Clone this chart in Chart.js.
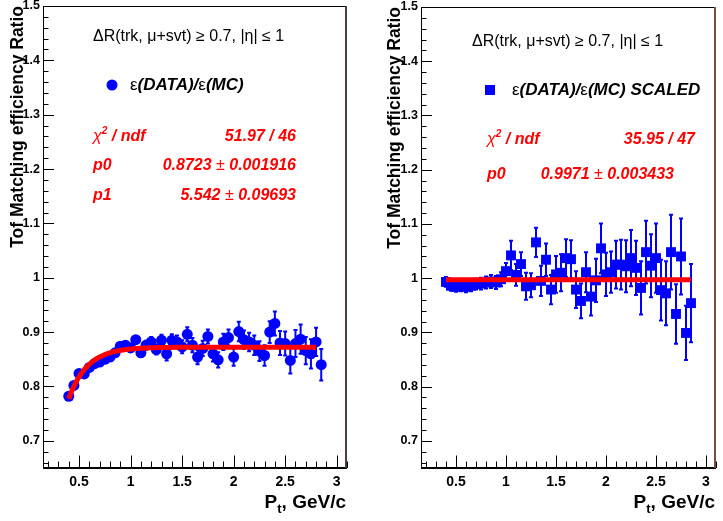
<!DOCTYPE html>
<html>
<head>
<meta charset="utf-8">
<script src="https://cdn.jsdelivr.net/npm/chart.js@4.4.0/dist/chart.umd.min.js"></script>
<style>
  html, body { margin: 0; padding: 0; background: #fff; }
  #wrap { position: relative; width: 723px; height: 521px; overflow: hidden; }
  canvas { position: absolute; top: 0; }
  #ratioChart { left: 0; }
  #scaledChart { left: 362px; }
</style>
</head>
<body>
<div id="wrap">
  <canvas id="ratioChart" width="362" height="521"></canvas>
  <canvas id="scaledChart" width="361" height="521"></canvas>
</div>
<script>
// ---------- DATA ----------
const ptBins = [0.40, 0.45, 0.50, 0.55, 0.60, 0.65, 0.70, 0.75, 0.80, 0.85,
                0.90, 0.95, 1.00, 1.05, 1.10, 1.15, 1.20, 1.25, 1.30, 1.35,
                1.40, 1.45, 1.50, 1.55, 1.60, 1.65, 1.70, 1.75, 1.80, 1.85,
                1.90, 1.95, 2.00, 2.05, 2.10, 2.15, 2.20, 2.25, 2.30, 2.35,
                2.40, 2.45, 2.50, 2.55, 2.60, 2.65, 2.70, 2.75, 2.80, 2.85];

// eps(DATA)/eps(MC)
const ratioVals = [0.782, 0.802, 0.824, 0.823, 0.835, 0.842, 0.845, 0.850, 0.854, 0.862,
                   0.874, 0.876, 0.871, 0.886, 0.862, 0.876, 0.882, 0.868, 0.885, 0.860,
                   0.885, 0.882, 0.873, 0.896, 0.876, 0.854, 0.870, 0.892, 0.860, 0.849,
                   0.882, 0.890, 0.854, 0.901, 0.886, 0.882, 0.876, 0.865, 0.857, 0.900,
                   0.916, 0.880, 0.879, 0.848, 0.879, 0.887, 0.866, 0.860, 0.882, 0.840];
const ratioErrs = [0.003, 0.003, 0.004, 0.004, 0.004, 0.004, 0.005, 0.005, 0.005, 0.005,
                   0.006, 0.006, 0.007, 0.007, 0.008, 0.008, 0.009, 0.009, 0.010, 0.012,
                   0.011, 0.012, 0.012, 0.013, 0.013, 0.013, 0.014, 0.013, 0.014, 0.014,
                   0.015, 0.015, 0.016, 0.018, 0.017, 0.017, 0.018, 0.018, 0.019, 0.020,
                   0.022, 0.022, 0.022, 0.024, 0.025, 0.027, 0.025, 0.027, 0.026, 0.029];

// eps(DATA)/eps(MC) SCALED
const scaledVals = [0.993, 0.986, 0.984, 0.985, 0.984, 0.986, 0.989, 0.990, 0.992, 0.994,
                    0.992, 0.998, 1.013, 1.042, 1.006, 1.026, 0.985, 0.987, 1.066, 0.995,
                    1.034, 0.979, 1.007, 1.010, 1.037, 1.035, 0.979, 0.958, 1.011, 0.966,
                    0.996, 1.055, 1.007, 1.011, 1.025, 1.025, 1.022, 1.037, 1.019, 0.982,
                    1.048, 1.023, 1.037, 0.978, 0.972, 1.048, 0.934, 1.040, 0.899, 0.954];
const scaledErrs = [0.009, 0.009, 0.009, 0.009, 0.010, 0.010, 0.010, 0.011, 0.011, 0.012,
                    0.012, 0.013, 0.015, 0.027, 0.020, 0.022, 0.025, 0.022, 0.027, 0.028,
                    0.030, 0.027, 0.034, 0.034, 0.035, 0.035, 0.034, 0.032, 0.037, 0.035,
                    0.040, 0.046, 0.040, 0.038, 0.044, 0.046, 0.048, 0.052, 0.050, 0.049,
                    0.058, 0.058, 0.064, 0.056, 0.059, 0.069, 0.055, 0.070, 0.050, 0.072];

// fit results printed in the stat boxes
const ratioFit = { p0: 0.8723, p1: 5.542, from: 0.40, to: 2.80 };
const scaledFit = { p0: 0.9971, from: 0.40, to: 2.85 };

const xTicks = [0.5, 1, 1.5, 2, 2.5, 3];
const yTicks = [0.7, 0.8, 0.9, 1.0, 1.1, 1.2, 1.3, 1.4, 1.5];

const SANS = '"Liberation Sans", Arial, Helvetica, sans-serif';
const BLUE = "#0000ff";
const RED = "#ff0000";

Chart.defaults.font.family = SANS;

// ---------- HELPERS ----------
function toPoints(xs, ys) {
  return xs.map((x, i) => ({ x: x, y: ys[i] }));
}

// draws a line of text made of several runs (font changes, sub/superscripts)
function drawRuns(ctx, runs, x, y, align) {
  let w = 0;
  runs.forEach(r => { ctx.font = r[1]; w += ctx.measureText(r[0]).width; });
  let cx = align === "right" ? x - w : x;
  ctx.textAlign = "left";
  runs.forEach(r => {
    ctx.font = r[1];
    ctx.fillText(r[0], cx, y + (r[2] || 0));
    cx += ctx.measureText(r[0]).width;
  });
}

const bi = size => `italic bold ${size}px ${SANS}`;
const plain = size => `${size}px ${SANS}`;

// ---------- ERROR BARS ----------
const errorBarPlugin = {
  id: "errorBars",
  beforeDatasetsDraw(chart, args, opts) {
    const { ctx } = chart;
    const xs = chart.scales.x, ys = chart.scales.y;
    ctx.save();
    ctx.strokeStyle = BLUE;
    ctx.lineWidth = 2;
    opts.values.forEach((v, i) => {
      const px = xs.getPixelForValue(opts.xs[i]);
      const top = ys.getPixelForValue(v + opts.errs[i]);
      const bot = ys.getPixelForValue(v - opts.errs[i]);
      ctx.beginPath();
      ctx.moveTo(px, top);
      ctx.lineTo(px, bot);
      ctx.moveTo(px - 2, top);
      ctx.lineTo(px + 2, top);
      ctx.moveTo(px - 2, bot);
      ctx.lineTo(px + 2, bot);
      ctx.stroke();
    });
    ctx.restore();
  }
};

// ---------- FRAME, INWARD TICKS, TEXT ----------
const framePlugin = {
  id: "rootFrame",
  afterDatasetsDraw(chart, args, opts) {
    const { ctx, chartArea: a } = chart;
    const xs = chart.scales.x, ys = chart.scales.y;
    ctx.save();

    // frame
    ctx.strokeStyle = "#000";
    ctx.lineWidth = 1;
    ctx.beginPath();
    ctx.moveTo(a.left + 0.5, a.bottom);
    ctx.lineTo(a.left + 0.5, a.top + 0.5);
    ctx.lineTo(a.right, a.top + 0.5);
    ctx.stroke();
    ctx.lineWidth = 2;
    ctx.beginPath();
    ctx.moveTo(a.left, a.bottom);
    ctx.lineTo(a.right, a.bottom);
    ctx.stroke();
    ctx.strokeStyle = opts.edgeColor;
    ctx.beginPath();
    ctx.moveTo(a.right - 1, a.top);
    ctx.lineTo(a.right - 1, a.bottom);
    ctx.stroke();

    // ticks pointing into the frame
    ctx.strokeStyle = "#000";
    ctx.lineWidth = 1;
    ctx.beginPath();
    for (let i = 33; i <= 75; i++) {
      const py = Math.round(ys.getPixelForValue(i * 0.02)) + 0.5;
      const len = i % 5 === 0 ? 11 : 5.5;
      ctx.moveTo(a.left, py);
      ctx.lineTo(a.left + len, py);
    }
    for (let i = 2; i <= 31; i++) {
      const px = Math.round(xs.getPixelForValue(i * 0.1)) + 0.5;
      const len = i % 5 === 0 ? 12.5 : 6.5;
      ctx.moveTo(px, a.bottom);
      ctx.lineTo(px, a.bottom - len);
    }
    ctx.stroke();

    // x axis title: P_t, GeV/c
    ctx.fillStyle = "#000";
    ctx.textBaseline = "alphabetic";
    drawRuns(ctx, [["P", `bold 19px ${SANS}`], ["t", `bold 13px ${SANS}`, 5],
                   [", GeV/c", `bold 19px ${SANS}`]], a.right - 1, 508, "right");

    // cut label
    ctx.textBaseline = "middle";
    ctx.fillStyle = "#000";
    drawRuns(ctx, [["\u0394R(trk, \u03bc+svt) \u2265 0.7, |\u03b7| \u2264 1", plain(16)]],
             opts.cut[0], opts.cut[1], "left");

    // legend entry
    const [mx, my] = opts.marker;
    ctx.fillStyle = BLUE;
    ctx.beginPath();
    if (opts.square) {
      ctx.rect(mx - 5, my - 5, 10, 10);
    } else {
      ctx.arc(mx, my, 5.5, 0, Math.PI * 2);
    }
    ctx.fill();
    ctx.fillStyle = "#000";
    drawRuns(ctx, [["\u03b5", plain(17)], ["(DATA)/", bi(17)], ["\u03b5", plain(17)],
                   ["(MC)" + opts.legendSuffix, bi(17)]], opts.legend[0], opts.legend[1], "left");

    // fit statistics
    ctx.fillStyle = RED;
    opts.stats.forEach(s => {
      drawRuns(ctx, s.label, opts.statX, s.y, "left");
      drawRuns(ctx, s.value, s.right, s.y, "right");
    });

    ctx.restore();
  }
};

function chiLabel() {
  return [["\u03c7", `italic 16px ${SANS}`], ["2", bi(10), -6], [" / ndf", bi(16)]];
}
function valueRuns(a, b) {
  return b === undefined ? [[a, bi(16)]] : [[a, bi(16)], [" \u00b1 ", plain(16)], [b, bi(16)]];
}

// ---------- CHART BUILDER ----------
function buildPanel(canvasId, cfg) {
  new Chart(document.getElementById(canvasId), {
    type: "scatter",
    data: {
      datasets: [
        {
          type: "line",
          data: cfg.fitPoints,
          borderColor: RED,
          borderWidth: 5,
          pointRadius: 0,
          fill: false,
          tension: 0
        },
        {
          data: toPoints(ptBins, cfg.values),
          backgroundColor: BLUE,
          borderWidth: 0,
          pointStyle: cfg.square ? "rect" : "circle",
          pointRadius: cfg.square ? 7 : 5.5
        }
      ]
    },
    options: {
      responsive: false,
      animation: false,
      devicePixelRatio: 1,
      layout: { padding: { top: 6, right: cfg.padRight, left: 0, bottom: 0 } },
      plugins: {
        legend: { display: false },
        tooltip: { enabled: false },
        errorBars: { xs: ptBins, values: cfg.values, errs: cfg.errs },
        rootFrame: cfg.frame
      },
      scales: {
        x: {
          type: "linear",
          min: 0.15,
          max: 3.1,
          grid: { display: false, drawTicks: false },
          border: { display: false },
          afterBuildTicks: s => { s.ticks = xTicks.map(v => ({ value: v })); },
          afterFit: s => { s.height = 53; s.paddingLeft = 0; s.paddingRight = 0; },
          ticks: {
            autoSkip: false,
            maxRotation: 0,
            padding: 6,
            color: "#000",
            font: { size: 14, weight: "bold" },
            callback: v => String(v)
          }
        },
        y: {
          type: "linear",
          min: 0.65,
          max: 1.5,
          grid: { display: false, drawTicks: false },
          border: { display: false },
          afterBuildTicks: s => { s.ticks = yTicks.map(v => ({ value: v })); },
          afterFit: s => { s.width = cfg.yWidth; s.paddingTop = 0; s.paddingBottom = 0; },
          title: {
            display: true,
            text: "Tof Matching efficiency Ratio",
            align: "end",
            color: "#000",
            font: { size: 17.5, weight: "bold" },
            padding: { top: cfg.titlePad, bottom: 0 }
          },
          ticks: {
            autoSkip: false,
            padding: 3,
            color: "#000",
            font: { size: 12.5, weight: "bold" },
            callback: v => (v === 1 ? "1" : v.toFixed(1))
          }
        }
      }
    },
    plugins: [errorBarPlugin, framePlugin]
  });
}

// fit curve p0 * (1 - exp(-p1 * pt)) from the fitted parameters
const ratioFitPoints = [];
for (let x = ratioFit.from; x <= ratioFit.to + 1e-9; x += 0.01) {
  ratioFitPoints.push({ x: x, y: ratioFit.p0 * (1 - Math.exp(-ratioFit.p1 * x)) });
}
const scaledFitPoints = [
  { x: scaledFit.from, y: scaledFit.p0 },
  { x: scaledFit.to, y: scaledFit.p0 }
];

buildPanel("ratioChart", {
  values: ratioVals,
  errs: ratioErrs,
  fitPoints: ratioFitPoints,
  square: false,
  padRight: 15,
  yWidth: 43,
  titlePad: 7.5,
  frame: {
    edgeColor: "#4d3d3d",
    cut: [93, 37],
    marker: [112, 85],
    square: false,
    legend: [130, 85],
    legendSuffix: "",
    statX: 93,
    stats: [
      { y: 137, right: 296, label: chiLabel(), value: valueRuns("51.97 / 46") },
      { y: 166, right: 296, label: [["p0", bi(16)]], value: valueRuns("0.8723", "0.001916") },
      { y: 196, right: 296, label: [["p1", bi(16)]], value: valueRuns("5.542", "0.09693") }
    ]
  }
});

buildPanel("scaledChart", {
  values: scaledVals,
  errs: scaledErrs,
  fitPoints: scaledFitPoints,
  square: true,
  padRight: 1,
  yWidth: 59,
  titlePad: 22.5,
  frame: {
    edgeColor: "#7a4a44",
    cut: [110, 42],
    marker: [128, 90],
    square: true,
    legend: [150, 90],
    legendSuffix: " SCALED",
    statX: 125,
    stats: [
      { y: 140, right: 333, label: chiLabel(), value: valueRuns("35.95 / 47") },
      { y: 175, right: 312, label: [["p0", bi(16)]], value: valueRuns("0.9971", "0.003433") }
    ]
  }
});
</script>
</body>
</html>
